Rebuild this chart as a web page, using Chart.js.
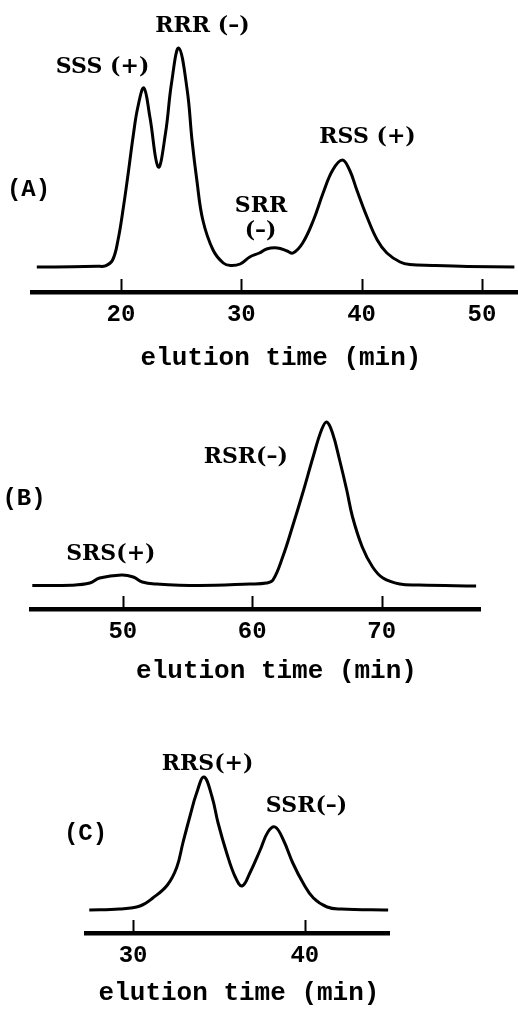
<!DOCTYPE html>
<html>
<head>
<meta charset="utf-8">
<script src="https://cdn.jsdelivr.net/npm/chart.js@4"></script>
<style>
  body { margin: 0; background: #fff; }
  #page { position: relative; width: 518px; height: 1010px; }
  #page canvas { position: absolute; left: 0; }
</style>
</head>
<body>
<div id="page">
  <canvas id="chartA" width="518" height="380" style="top:0px"></canvas>
  <canvas id="chartB" width="518" height="320" style="top:380px"></canvas>
  <canvas id="chartC" width="518" height="310" style="top:700px"></canvas>
</div>
<script>
// (A) elution profile, time in min, detector response in arbitrary units
const timeA = [13.0, 16.0, 18.0, 18.7, 19.3, 19.75, 20.2, 20.6, 21.0, 21.4, 21.9, 22.4, 23.1, 23.7, 24.2, 24.8,
  25.5, 25.9, 26.3, 26.8, 27.65, 28.5, 29.1, 29.9, 30.7, 31.5, 32.1, 33.0, 33.8, 34.3, 35.1, 36.0, 36.8,
  37.6, 38.4, 39.0, 39.6, 40.45, 41.3, 42.1, 43.2, 44.0, 45.9, 48.8, 52.7]
const signalA = [0, 0.3, 0.8, 1.2, 7, 27, 60, 94, 130, 160, 179, 150, 100, 134, 184, 219,
  177, 127, 87, 47, 17, 4, 1.5, 3, 10, 14, 18, 19, 16, 14, 24, 47, 74,
  97, 107, 97, 77, 50, 27, 14, 5, 2.5, 1.5, 0.5, 0]
const peaksA = ['SSS (+)', 'RRR (–)', 'SRR', '(–)', 'RSS (+)']

// (B)
const timeB = [43.0, 46.0, 47.45, 48.2, 49.9, 50.8, 51.5, 52.6, 55.9, 59.8, 61.1, 61.6, 62.35, 63.1,
  63.9, 64.7, 65.35, 65.75, 66.2, 66.75, 67.3, 67.75, 68.5, 69.3, 70.1, 71.4, 72.9, 77.3]
const signalB = [0.5, 0.8, 3, 8, 11, 9, 4, 2, 0.5, 2, 3, 6, 29, 59,
  93, 129, 156, 164, 153, 126, 96, 69, 39, 19, 8, 2, 1, 0]
const peaksB = ['SRS(+)', 'RSR(–)']

// (C)
const timeC = [27.45, 29.2, 30.4, 31.15, 32.0, 32.55, 32.9, 33.3, 33.7, 34.13, 34.6, 34.95, 35.45,
  35.95, 36.35, 36.8, 37.4, 37.85, 38.27, 38.75, 39.3, 39.9, 40.5, 41.3, 42.1, 44.85]
const signalC = [0, 1, 4, 12, 25, 43, 67, 93, 117, 133, 113, 87, 57,
  33, 24, 37, 60, 78, 83, 70, 47, 27, 12, 3, 1, 0]
const peaksC = ['RRS(+)', 'SSR(–)']

const axisTitle = 'elution time (min)'

// where each label sits, in axis units (time, response at text baseline)
const peakSpots = {
  A: [[18.46, 194], [26.77, 235], [31.64, 55], [31.6, 30], [40.49, 124]],
  B: [[49.07, 26], [59.5, 123]],
  C: [[34.34, 140], [40.1, 98]]
}

const panels = [
  { id: 'chartA', tag: '(A)', time: timeA, signal: signalA, peaks: peaksA, spots: peakSpots.A,
    xMin: 12.6, xMax: 53.0, yMin: -25, yMax: 267, axisY: 292, padLeft: 32, padRight: 0,
    tagAt: [28.5, 196], titleAt: [281, 365] },
  { id: 'chartB', tag: '(B)', time: timeB, signal: signalB, peaks: peaksB, spots: peakSpots.B,
    xMin: 42.9, xMax: 77.6, yMin: -23, yMax: 206, axisY: 229, padLeft: 31, padRight: 38,
    tagAt: [24, 125], titleAt: [276.5, 298] },
  { id: 'chartC', tag: '(C)', time: timeC, signal: signalC, peaks: peaksC, spots: peakSpots.C,
    xMin: 27.26, xMax: 44.9, yMin: -23, yMax: 210, axisY: 233, padLeft: 86, padRight: 129,
    tagAt: [85.5, 140], titleAt: [239, 300] }
]

const monoFont = '"Courier New", "Liberation Mono", monospace'
const serifFont = '"DejaVu Serif", serif'

// inward tick marks, peak names, panel tag and axis title
const decor = {
  id: 'decor',
  afterDraw(chart, args, opts) {
    const { ctx, chartArea, scales: { x, y } } = chart
    ctx.save()
    ctx.strokeStyle = '#000'
    ctx.lineWidth = 2
    x.ticks.forEach(t => {
      const px = Math.round(x.getPixelForValue(t.value)) + 0.5
      ctx.beginPath()
      ctx.moveTo(px, chartArea.bottom)
      ctx.lineTo(px, chartArea.bottom - 13)
      ctx.stroke()
    })

    ctx.fillStyle = '#000'
    ctx.textAlign = 'center'
    ctx.textBaseline = 'alphabetic'
    ctx.font = 'bold 22px ' + serifFont
    opts.peaks.forEach((txt, i) => {
      const [t, v] = opts.spots[i]
      ctx.fillText(txt, x.getPixelForValue(t), y.getPixelForValue(v))
    })

    ctx.font = 'bold 24px ' + monoFont
    ctx.fillText(opts.tag, opts.tagAt[0], opts.tagAt[1])

    ctx.font = 'bold 26px ' + monoFont
    ctx.fillText(axisTitle, opts.titleAt[0], opts.titleAt[1])
    ctx.restore()
  }
}

panels.forEach(p => {
  const canvas = document.getElementById(p.id)
  const scaleHeight = canvas.height - p.axisY
  new Chart(canvas.getContext('2d'), {
    type: 'line',
    data: {
      datasets: [{
        data: p.time.map((t, i) => ({ x: t, y: p.signal[i] })),
        borderColor: '#000',
        borderWidth: 3,
        borderJoinStyle: 'round',
        pointRadius: 0,
        tension: 0.4,
        fill: false
      }]
    },
    options: {
      responsive: false,
      animation: false,
      layout: { padding: { left: p.padLeft, right: p.padRight, top: 0, bottom: 0 } },
      plugins: {
        legend: { display: false },
        tooltip: { enabled: false },
        decor: { peaks: p.peaks, spots: p.spots, tag: p.tag, tagAt: p.tagAt, titleAt: p.titleAt }
      },
      scales: {
        x: {
          type: 'linear',
          min: p.xMin,
          max: p.xMax,
          afterFit: scale => { scale.height = scaleHeight },
          grid: { display: false, drawTicks: false },
          border: { display: true, color: '#000', width: 4.5 },
          ticks: {
            stepSize: 10,
            includeBounds: false,
            padding: 9,
            color: '#000',
            font: { family: monoFont, size: 24, weight: 'bold' }
          }
        },
        y: {
          display: false,
          min: p.yMin,
          max: p.yMax
        }
      }
    },
    plugins: [decor]
  })
})
</script>
</body>
</html>
